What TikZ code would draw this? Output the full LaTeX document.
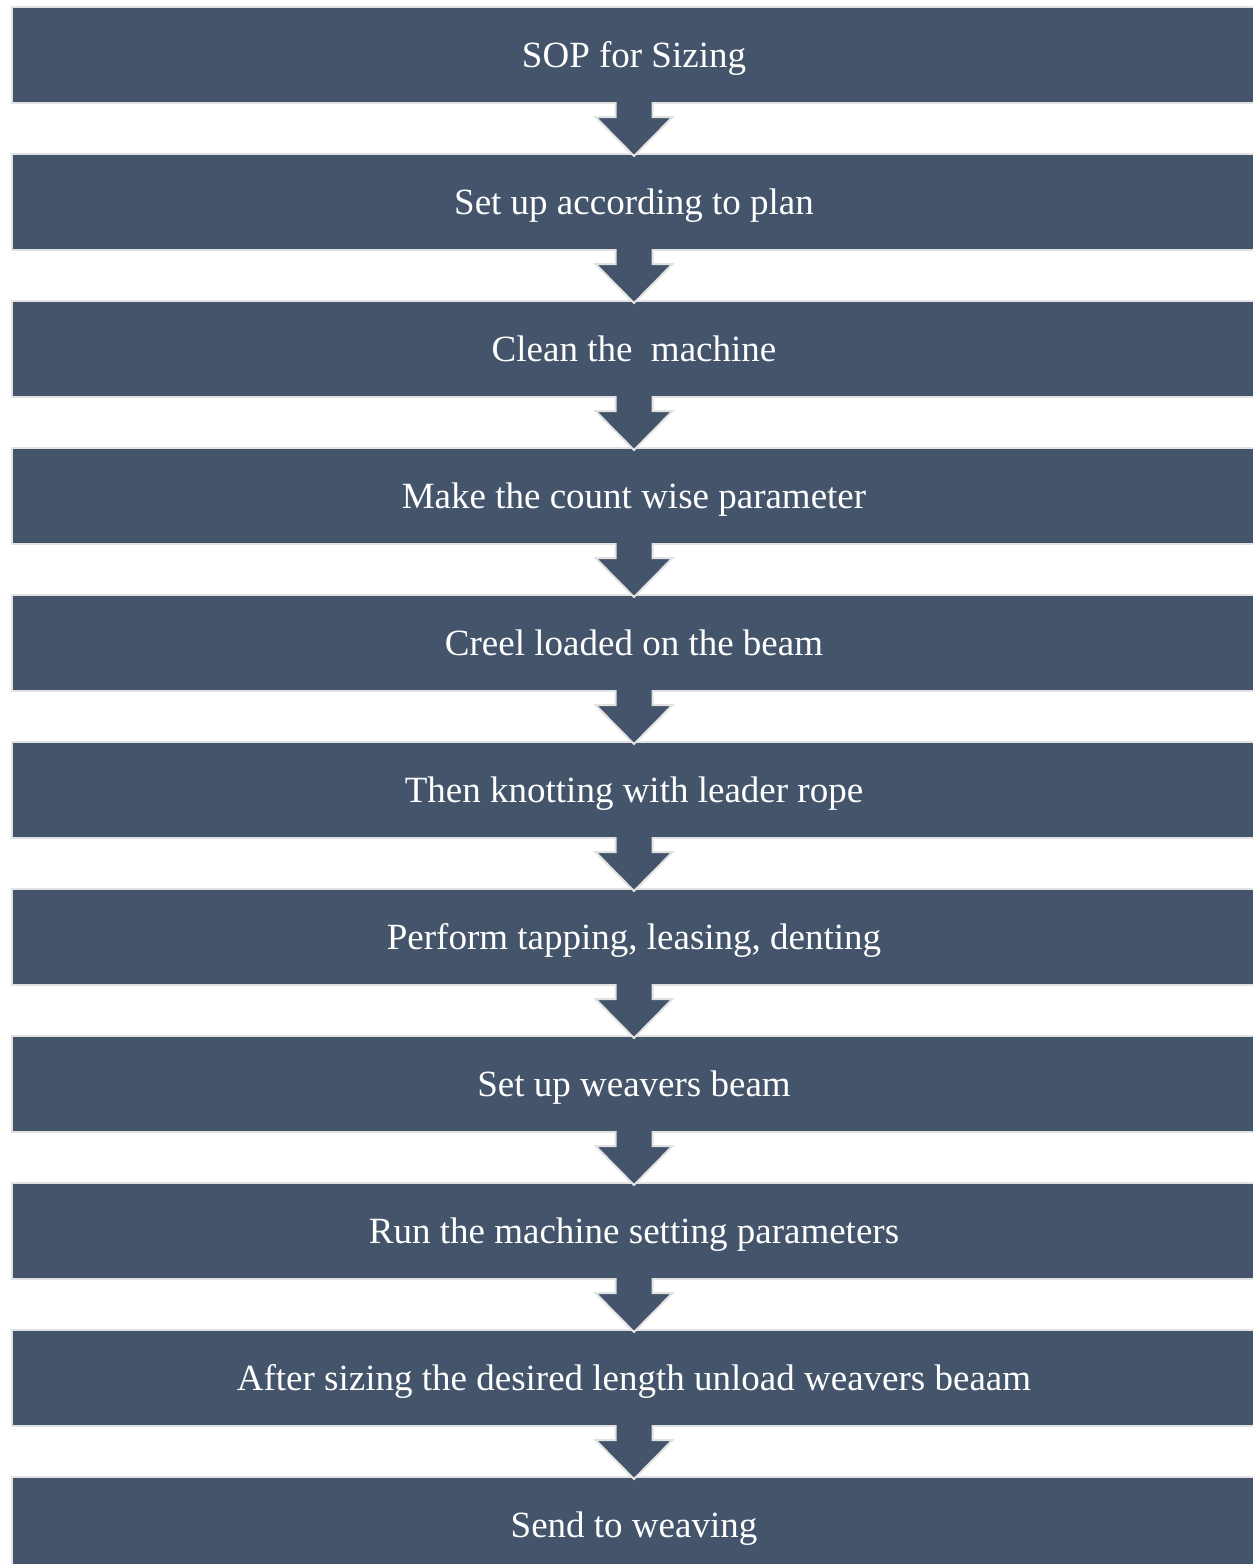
\documentclass[tikz,border=0pt]{standalone}
\usepackage{fontspec}
\setmainfont{Liberation Serif}
\usetikzlibrary{positioning,calc}
\definecolor{slate}{HTML}{44546A}
\definecolor{rim}{HTML}{E2E2E2}

\begin{document}
\begin{tikzpicture}[x=1pt,y=1pt,
  stepbox/.style   = {draw=rim, line width=2pt, fill=slate, text=white,
                      minimum width=1244pt, minimum height=96pt,
                      inner sep=0pt, outer sep=0pt,
                      text height=25.5pt, text depth=0pt,
                      font=\fontsize{37}{44}\selectfont},
  downarrow/.style = {fill=slate, draw=rim, line width=2pt, line join=miter},
  node distance    = 51pt]
\useasboundingbox (0,0) rectangle (1253,-1564);
\node[stepbox]              (s1)  at (634,-55) {SOP for Sizing};
\node[stepbox, below=of s1] (s2)  {Set up according to plan};
\node[stepbox, below=of s2] (s3)  {Clean the\ \ machine};
\node[stepbox, below=of s3] (s4)  {Make the count wise parameter};
\node[stepbox, below=of s4] (s5)  {Creel loaded on the beam};
\node[stepbox, below=of s5] (s6)  {Then knotting with leader rope};
\node[stepbox, below=of s6] (s7)  {Perform tapping, leasing, denting};
\node[stepbox, below=of s7] (s8)  {Set up weavers beam};
\node[stepbox, below=of s8] (s9)  {Run the machine setting parameters};
\node[stepbox, below=of s9] (s10) {After sizing the desired length unload weavers beaam};
\node[stepbox, below=of s10](s11) {Send to weaving};
% block arrows between the steps
\foreach \i [count=\j from 2] in {1,...,10}
  \path[downarrow] ($(s\i.south)+(-18.5,1)$) -- ++(0,-15) -- ++(-20,0)
    -- ($(s\j.north)+(0,-2)$) -- ($(s\i.south)+(38.5,-14)$) -- ++(-20,0)
    -- ($(s\i.south)+(18.5,1)$);
\end{tikzpicture}
\end{document}
